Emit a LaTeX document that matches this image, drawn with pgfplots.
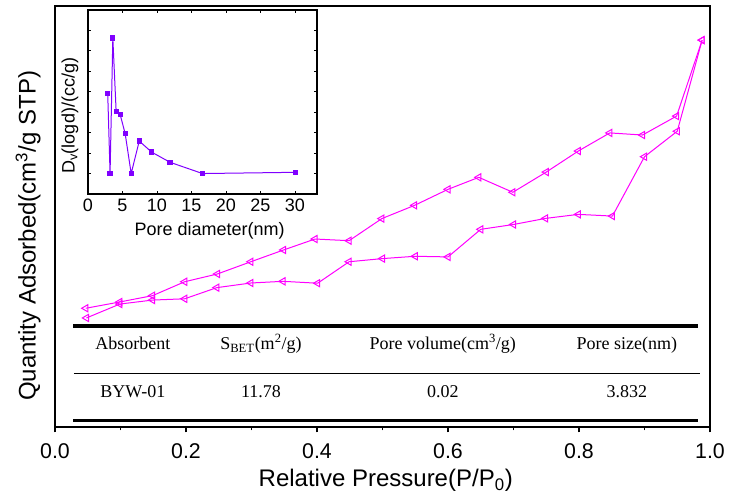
\documentclass[border=0pt]{standalone}
\usepackage{fontspec}
\setmainfont{Liberation Sans}
\newfontfamily\tnr{Liberation Serif}
\usepackage{pgfplots}
\pgfplotsset{compat=1.18}
\definecolor{isomag}{RGB}{255,0,255}
\definecolor{psdviolet}{RGB}{128,0,255}

% 1 px of the reference = 0.75pt
\pgfplotstableread{
p q
0.048 5.18
0.099 5.84
0.149 6.03
0.198 6.09
0.247 6.62
0.299 6.84
0.348 6.92
0.401 6.83
0.449 7.85
0.500 8.00
0.550 8.11
0.600 8.08
0.650 9.39
0.700 9.62
0.749 9.91
0.799 10.10
0.851 10.02
0.900 12.84
0.950 14.05
0.988 18.38
}\adsorption
\pgfplotstableread{
p q
0.988 18.38
0.949 14.77
0.897 13.87
0.847 13.97
0.799 13.11
0.750 12.11
0.699 11.15
0.647 11.86
0.600 11.29
0.549 10.53
0.499 9.90
0.449 8.85
0.397 8.93
0.349 8.41
0.299 7.85
0.248 7.27
0.198 6.90
0.149 6.24
0.099 5.94
0.047 5.64
}\desorption
\pgfplotstableread{
d dv
2.86 3.90
3.20 0.00
3.60 6.63
4.08 3.04
4.66 2.89
5.39 1.95
6.26 0.00
7.43 1.59
9.22 1.05
11.9 0.55
16.6 0.00
30.05 0.06
}\psd

\begin{document}
\begin{tikzpicture}
\begin{axis}[
  name=main,
  scale only axis,
  width=491.25pt, height=315.75pt,
  xmin=0, xmax=1, ymin=0, ymax=20,
  axis line style={line width=0.9pt},
  xtick={0,0.2,...,1.0},
  minor xtick={0.1,0.3,0.5,0.7,0.9},
  xtick pos=left,
  xtick align=outside,
  ytick=\empty,
  minor ytick={1,...,19},
  ytick align=inside,
  major tick length=4pt,
  minor tick length=2.5pt,
  tick style={line width=0.8pt, black},
  /pgf/number format/assume math mode=true,
  tick label style={font=\fontsize{16}{18}\selectfont},
  xticklabel style={yshift=-5pt, /pgf/number format/.cd, fixed, fixed zerofill, precision=1},
  xlabel={Relative Pressure(P/P\textsubscript{0})},
  ylabel={Quantity Adsorbed(cm\textsuperscript{3}/g STP)},
  label style={font=\fontsize{18}{21}\selectfont},
  xlabel style={at={(axis description cs:0.505,-0.142)}, anchor=base},
  ylabel style={at={(axis description cs:-0.041,0.454)}, anchor=center},
  clip=false,
]
\addplot[isomag, line width=0.75pt, mark=triangle, mark size=3.1pt,
  mark options={rotate=90, solid, fill=white}] table[x=p, y=q] {\adsorption};
\addplot[isomag, line width=0.75pt, mark=triangle, mark size=3.1pt,
  mark options={rotate=90, solid, fill=white}] table[x=p, y=q] {\desorption};

% BET summary table
\draw[line width=2.5pt] (rel axis cs:0.0275,0.240) -- (rel axis cs:0.9817,0.240);
\draw[line width=0.75pt] (rel axis cs:0.0290,0.128) -- (rel axis cs:0.9840,0.128);
\draw[line width=2.5pt] (rel axis cs:0.0275,0.0154) -- (rel axis cs:0.9817,0.0154);
\begin{scope}[every node/.style={font=\tnr\fontsize{13.5}{16}\selectfont, anchor=base, inner sep=0pt}]
\node at (rel axis cs:0.119,0.183) {Absorbent};
\node at (rel axis cs:0.3145,0.183) {S\textsubscript{BET}(m\textsuperscript{2}/g)};
\node at (rel axis cs:0.592,0.183) {Pore volume(cm\textsuperscript{3}/g)};
\node at (rel axis cs:0.873,0.183) {Pore size(nm)};
\node at (rel axis cs:0.119,0.0705) {BYW-01};
\node at (rel axis cs:0.3145,0.0705) {11.78};
\node at (rel axis cs:0.592,0.0705) {0.02};
\node at (rel axis cs:0.873,0.0705) {3.832};
\end{scope}
\end{axis}

\begin{axis}[
  at={(main.south west)}, anchor=south west,
  xshift=24.75pt, yshift=174.75pt,
  scale only axis,
  width=171.75pt, height=138pt,
  xmin=0, xmax=33.2, ymin=-1, ymax=8,
  axis background/.style={fill=white},
  axis line style={line width=0.8pt},
  xtick={0,5,...,30},
  ytick={0,...,7},
  yticklabels={},
  tick align=inside,
  major tick length=2.5pt,
  tick style={line width=0.6pt, black},
  /pgf/number format/assume math mode=true,
  tick label style={font=\fontsize{13.5}{16}\selectfont},
  xlabel={Pore diameter(nm)},
  ylabel={D\textsubscript{v}(logd)/(cc/g)},
  label style={font=\fontsize{13.5}{16}\selectfont},
  xlabel style={at={(axis description cs:0.531,-0.223)}, anchor=base},
  ylabel style={at={(axis description cs:-0.079,0.424)}, anchor=center},
]
\addplot[psdviolet, line width=0.75pt, mark=square*, mark size=1.6pt,
  mark options={solid}] table[x=d, y=dv] {\psd};
\end{axis}

\pgfresetboundingbox
\path[use as bounding box] ([shift={(-41.25pt,-52.5pt)}]main.south west)
  rectangle ([shift={(22.5pt,4.5pt)}]main.north east);
\end{tikzpicture}
\end{document}
